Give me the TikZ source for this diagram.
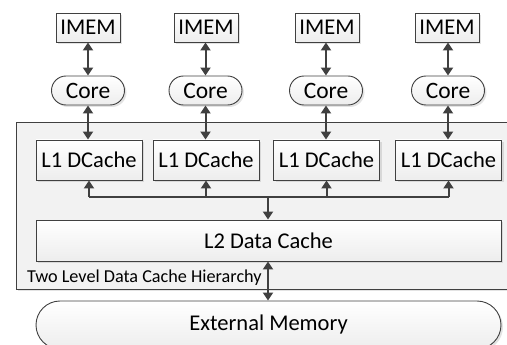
\documentclass[tikz,border=0pt]{standalone}
\usepackage{fontspec}
\setmainfont{Carlito}
\usetikzlibrary{arrows.meta,shapes.misc,shadows}
\definecolor{edge}{HTML}{404040}
\definecolor{panel}{HTML}{F2F2F2}
\tikzset{
  blk/.style={draw=edge, line width=0.9pt, top color=white, bottom color=black!7,
    drop shadow={shadow xshift=2pt, shadow yshift=-2pt, opacity=0.18, fill=black!60},
    inner sep=0pt, font=\fontsize{22.5}{25}\selectfont, text=black},
  memblk/.style={blk, rectangle, minimum width=64pt, minimum height=29pt},
  coreblk/.style={blk, rounded rectangle, minimum width=73pt, minimum height=29pt},
  l1blk/.style={blk, rectangle, minimum width=106pt, minimum height=40pt},
  link/.style={draw=edge, line width=2pt, {Triangle[length=8pt,width=10pt]}-{Triangle[length=8pt,width=10pt]}},
  onew/.style={draw=edge, line width=2pt, -{Triangle[length=8pt,width=10pt]}},
  busline/.style={draw=edge, line width=2pt},
}
\begin{document}
\begin{tikzpicture}[x=1pt,y=-1pt]
\useasboundingbox (0,0) rectangle (507,345);
\clip (0,0) rectangle (507,345);

% cache hierarchy panel
\node[draw=edge, line width=0.9pt, fill=panel, rectangle,
  drop shadow={shadow xshift=2pt, shadow yshift=-2pt, opacity=0.18, fill=black!60},
  minimum width=500pt, minimum height=167pt, inner sep=0pt] (panel) at (266,205.5) {};

% instruction memories
\foreach \i/\x in {1/88, 2/206, 3/327, 4/447}
  \node[memblk] (imem\i) at (\x,27.5) {IMEM};

% cores
\foreach \i/\x in {1/88, 2/205.5, 3/326, 4/448}
  \node[coreblk, font=\fontsize{23.5}{26}\selectfont] (core\i) at (\x,90.5) {Core};

% first-level data caches
\foreach \i/\x in {1/89, 2/206, 3/326.5, 4/448.5}
  \node[l1blk] (lone\i) at (\x,160) {L1 DCache};

% second-level cache and external memory
\node[blk, rectangle, minimum width=465pt, minimum height=41pt] (ltwo) at (268.5,240.5) {L2 Data Cache};
\node[blk, rounded rectangle, minimum width=465pt, minimum height=48pt] (ext) at (268.5,325) {External Memory};

\node[anchor=base west, inner sep=0pt, font=\fontsize{18.2}{20}\selectfont] (lbl) at (27,282) {Two Level Data Cache Hierarchy};

% IMEM <-> Core <-> L1
\foreach \i in {1,...,4}{
  \draw[link] (imem\i.south -| core\i) -- (core\i.north);
  \draw[link] (core\i.south) -- (core\i.south |- lone\i.north);
}

% shared bus between L1 caches and L2
\coordinate (bus) at (268,197);
\draw[busline] (lone1.south |- bus) -- (lone4.south |- bus);
\foreach \i in {1,...,4}
  \draw[onew] (lone\i.south |- bus) -- (lone\i.south);
\draw[onew] (bus) -- (bus |- ltwo.north);

% L2 <-> external memory
\draw[link] (bus |- ltwo.south) -- (bus |- ext.north);
\end{tikzpicture}
\end{document}
